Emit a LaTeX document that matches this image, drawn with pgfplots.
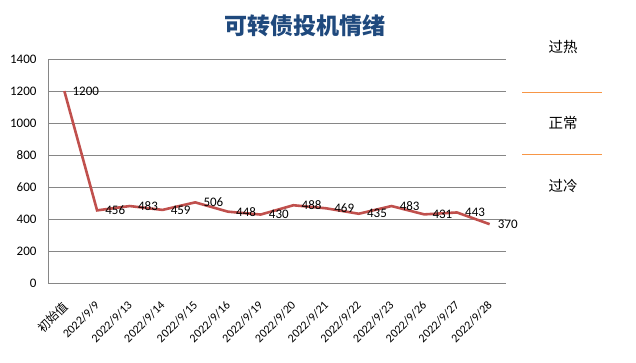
\documentclass[border=0pt]{standalone}
\usepackage{fontspec}
\setmainfont{Carlito}
\newfontfamily\cjk{Noto Sans CJK SC}
\usepackage{pgfplots}
\pgfplotsset{compat=1.18}
\definecolor{linered}{RGB}{192,80,77}
\definecolor{titleblue}{RGB}{31,73,125}
\definecolor{gridgray}{RGB}{134,134,134}
\definecolor{orangeline}{RGB}{247,150,70}
\pgfplotstableread{
x y
0 1200
1 456
2 483
3 459
4 506
5 448
6 430
7 488
8 469
9 435
10 483
11 431
12 443
13 370
}\sentiment
\begin{document}
\begin{tikzpicture}[x=1bp,y=1bp]
\useasboundingbox (0,0) rectangle (636,362);
\begin{axis}[
  at={(48bp,78.5bp)}, anchor=south west,
  scale only axis, width=458bp, height=224.5bp,
  xmin=-0.5, xmax=13.5, ymin=0, ymax=1400,
  ytick={0,200,...,1400},
  xtick={0,...,13},
  xticklabels={{\cjk 初始值},2022/9/9,2022/9/13,2022/9/14,2022/9/15,2022/9/16,2022/9/19,2022/9/20,2022/9/21,2022/9/22,2022/9/23,2022/9/26,2022/9/27,2022/9/28},
  axis x line=bottom, axis y line=left,
  axis line style={-, draw=gridgray, line width=0.9bp},
  ymajorgrids, major grid style={draw=gridgray, line width=0.9bp},
  major tick length=0,
  tick label style={font=\fontsize{13bp}{15bp}\selectfont, text=black},
  /pgf/number format/assume math mode=true,
  /pgf/number format/1000 sep={},
  yticklabel style={xshift=-8bp},
  xticklabel style={xshift=-3bp, yshift=-16bp, rotate=45, anchor=north east, inner sep=0.5bp, font=\fontsize{12bp}{14bp}\selectfont},
  nodes near coords,
  every node near coord/.append style={anchor=west, xshift=6bp, inner sep=1bp, font=\fontsize{13bp}{15bp}\selectfont, text=black},
  clip=false,
]
\addplot[linered, line width=2.6bp] table[x=x,y=y] {\sentiment};
\end{axis}
\node[text=titleblue, font=\fontsize{23bp}{26bp}\selectfont\cjk\bfseries] at (305,336) {可转债投机情绪};
\node[font=\fontsize{14.5bp}{17bp}\selectfont\cjk] at (563,315) {过热};
\draw[orangeline, line width=1bp] (522,270) -- (602,270);
\node[font=\fontsize{14.5bp}{17bp}\selectfont\cjk] at (563,239) {正常};
\draw[orangeline, line width=1bp] (522,208) -- (602,208);
\node[font=\fontsize{14.5bp}{17bp}\selectfont\cjk] at (563,176) {过冷};
\end{tikzpicture}
\end{document}
